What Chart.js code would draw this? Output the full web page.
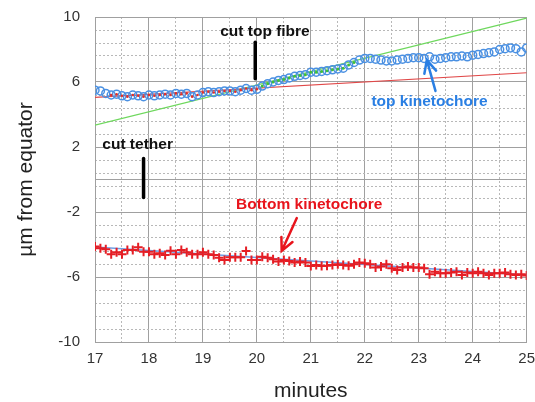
<!DOCTYPE html>
<html>
<head>
<meta charset="utf-8">
<script src="https://cdn.jsdelivr.net/npm/chart.js@4/dist/chart.umd.min.js"></script>
<style>
  body { margin: 0; background: #fff; }
  #wrap { width: 535px; height: 402px; }
</style>
</head>
<body>
<div id="wrap"><canvas id="myChart"></canvas></div>
<script>
// time in minutes
var minutes = [17.0,17.1,17.2,17.3,17.4,17.5,17.6,17.7,17.8,17.9,
  18.0,18.1,18.2,18.3,18.4,18.5,18.6,18.7,18.8,18.9,
  19.0,19.1,19.2,19.3,19.4,19.5,19.6,19.7,19.8,19.9,
  20.0,20.1,20.2,20.3,20.4,20.5,20.6,20.7,20.8,20.9,
  21.0,21.1,21.2,21.3,21.4,21.5,21.6,21.7,21.8,21.9,
  22.0,22.1,22.2,22.3,22.4,22.5,22.6,22.7,22.8,22.9,
  23.0,23.1,23.2,23.3,23.4,23.5,23.6,23.7,23.8,23.9,
  24.0,24.1,24.2,24.3,24.4,24.5,24.6,24.7,24.8,24.9,25.0];

// distance from equator (um)
var topKinetochore = [5.5,5.45,5.3,5.2,5.25,5.15,5.1,5.2,5.15,5.1,
  5.2,5.15,5.2,5.25,5.2,5.3,5.25,5.3,5.1,5.2,
  5.35,5.4,5.35,5.4,5.45,5.45,5.4,5.5,5.6,5.5,
  5.55,5.75,5.9,6.0,6.1,6.15,6.25,6.35,6.4,6.45,
  6.6,6.6,6.65,6.7,6.75,6.8,6.85,7.05,7.2,7.35,
  7.45,7.45,7.4,7.35,7.3,7.3,7.35,7.4,7.45,7.5,
  7.5,7.45,7.55,7.4,7.45,7.5,7.55,7.55,7.6,7.55,
  7.65,7.7,7.75,7.8,7.85,8.0,8.05,8.1,8.05,7.85,8.1];

var bottomKinetochore = [-4.13,-4.23,-4.29,-4.6,-4.48,-4.6,-4.34,-4.34,-4.17,-4.44,
  -4.44,-4.6,-4.54,-4.64,-4.38,-4.6,-4.34,-4.48,-4.6,-4.6,
  -4.48,-4.6,-4.64,-4.81,-4.95,-4.79,-4.79,-4.79,-4.4,-4.95,
  -4.95,-4.75,-4.81,-4.91,-5.05,-4.95,-5.01,-5.11,-5.05,-5.11,
  -5.32,-5.26,-5.32,-5.3,-5.26,-5.22,-5.26,-5.3,-5.22,-5.11,
  -5.16,-5.22,-5.42,-5.36,-5.22,-5.46,-5.57,-5.42,-5.36,-5.42,
  -5.42,-5.46,-5.83,-5.67,-5.77,-5.77,-5.73,-5.67,-5.87,-5.73,
  -5.77,-5.67,-5.77,-5.87,-5.77,-5.77,-5.73,-5.83,-5.87,-5.83,-5.91];

// index ranges of the top points used for the two fits
var beforeCutRange = [3, 30];   // 17.3 .. 20.0
var afterCutRange = [31, 48];   // 20.1 .. 21.8

// fit lines
var fitX = [17, 25];
var beforeCutFit = [5.05, 6.57];
var afterCutFit = [3.35, 9.93];
var bottomFit = [-4.15, -5.88];

// axis ticks
var xTicks = [17, 18, 19, 20, 21, 22, 23, 24, 25];
var xMinorTicks = [17.5, 18.5, 19.5, 20.5, 21.5, 22.5, 23.5, 24.5];
var yTicks = [-10, -6, -2, 0, 2, 6, 10];
var yMinorTicks = [-9.2,-8.4,-7.6,-6.8,-5.2,-4.4,-3.6,-2.8,-1.2,-0.4,0.4,1.2,2.8,3.6,4.4,5.2,6.8,7.6,8.4,9.2];

function pts(xs, ys, from, to) {
  var out = [];
  for (var i = from; i <= to; i++) out.push({x: xs[i], y: ys[i]});
  return out;
}

var notes = [
  {text: 'cut top fibre', x: 20.15, y: 9.08, color: '#111111'},
  {text: 'top kinetochore', x: 23.2, y: 4.8, color: '#2a7fe3'},
  {text: 'cut tether', x: 17.79, y: 2.12, color: '#111111'},
  {text: 'Bottom kinetochore', x: 20.97, y: -1.57, color: '#e8141c'}
];
var bars = [
  {x: 19.97, y1: 8.45, y2: 6.2},
  {x: 17.9, y1: 1.3, y2: -1.1}
];
var arrows = [
  {x1: 23.31, y1: 5.45, x2: 23.15, y2: 7.35, color: '#2a7fe3'},
  {x1: 20.74, y1: -2.37, x2: 20.46, y2: -4.4, color: '#e8141c'}
];

var notesPlugin = {
  id: 'notes',
  afterDatasetsDraw: function(chart) {
    var ctx = chart.ctx, xs = chart.scales.x, ys = chart.scales.y;
    ctx.save();
    ctx.lineCap = 'round';
    bars.forEach(function(b) {
      ctx.strokeStyle = '#000';
      ctx.lineWidth = 3.5;
      ctx.beginPath();
      ctx.moveTo(xs.getPixelForValue(b.x), ys.getPixelForValue(b.y1));
      ctx.lineTo(xs.getPixelForValue(b.x), ys.getPixelForValue(b.y2));
      ctx.stroke();
    });
    arrows.forEach(function(a) {
      var x1 = xs.getPixelForValue(a.x1), y1 = ys.getPixelForValue(a.y1);
      var x2 = xs.getPixelForValue(a.x2), y2 = ys.getPixelForValue(a.y2);
      var ang = Math.atan2(y2 - y1, x2 - x1);
      ctx.strokeStyle = a.color;
      ctx.lineWidth = 2.5;
      ctx.beginPath();
      ctx.moveTo(x1, y1);
      ctx.lineTo(x2, y2);
      ctx.moveTo(x2 - 14 * Math.cos(ang - 0.45), y2 - 14 * Math.sin(ang - 0.45));
      ctx.lineTo(x2, y2);
      ctx.lineTo(x2 - 14 * Math.cos(ang + 0.45), y2 - 14 * Math.sin(ang + 0.45));
      ctx.stroke();
    });
    ctx.font = 'bold 15.5px "Liberation Sans", Arial, sans-serif';
    ctx.textAlign = 'center';
    ctx.textBaseline = 'middle';
    notes.forEach(function(n) {
      ctx.fillStyle = n.color;
      ctx.fillText(n.text, xs.getPixelForValue(n.x), ys.getPixelForValue(n.y));
    });
    ctx.restore();
  }
};

var ctx = document.getElementById('myChart');

new Chart(ctx, {
  type: 'scatter',
  data: {
    datasets: [
      {
        label: 'fit before cut',
        data: pts(fitX, beforeCutFit, 0, 1),
        showLine: true, pointRadius: 0,
        borderColor: '#e04848', borderWidth: 1.2,
        order: 10
      },
      {
        label: 'fit after cut',
        data: pts(fitX, afterCutFit, 0, 1),
        showLine: true, pointRadius: 0,
        borderColor: '#6fd85e', borderWidth: 1.2,
        order: 10
      },
      {
        label: 'fit bottom',
        data: pts(fitX, bottomFit, 0, 1),
        showLine: true, pointRadius: 0,
        borderColor: '#6f9fe6', borderWidth: 1.5,
        order: 10
      },
      {
        label: 'top kinetochore',
        data: pts(minutes, topKinetochore, 0, minutes.length - 1),
        pointStyle: 'circle', pointRadius: 4,
        pointBorderWidth: 1.5,
        borderColor: '#4a90e2', backgroundColor: 'rgba(0,0,0,0)',
        order: 2
      },
      {
        label: 'top before cut',
        data: pts(minutes, topKinetochore, beforeCutRange[0], beforeCutRange[1]),
        pointRadius: 1.3, pointBorderWidth: 0,
        backgroundColor: '#e0302a', borderColor: '#e0302a',
        order: 1
      },
      {
        label: 'top after cut',
        data: pts(minutes, topKinetochore, afterCutRange[0], afterCutRange[1]),
        pointRadius: 1.5, pointBorderWidth: 0,
        backgroundColor: '#3fbf3a', borderColor: '#3fbf3a',
        order: 1
      },
      {
        label: 'bottom kinetochore',
        data: pts(minutes, bottomKinetochore, 0, minutes.length - 1),
        pointStyle: 'cross', pointRadius: 4.5,
        pointBorderWidth: 2,
        borderColor: '#e51e25', backgroundColor: '#e51e25',
        order: 2
      }
    ]
  },
  options: {
    responsive: true,
    maintainAspectRatio: false,
    animation: false,
    layout: { padding: { top: 17, right: 8, left: 0, bottom: 0 } },
    plugins: { legend: { display: false }, tooltip: { enabled: false } },
    scales: {
      x: {
        type: 'linear', min: 17, max: 25,
        afterBuildTicks: function(axis) { axis.ticks = xTicks.map(function(v) { return {value: v}; }); },
        afterFit: function(axis) { axis.height = 60; },
        ticks: { padding: 0, color: '#333', font: { family: 'Liberation Sans', size: 15 }, autoSkip: false, maxRotation: 0 },
        grid: { color: '#a0a0a0', lineWidth: 1, drawTicks: true, tickLength: 8, tickColor: 'rgba(0,0,0,0)' },
        border: { color: '#a0a0a0' },
        title: { display: true, text: 'minutes', color: '#222', padding: 0,
          font: { family: 'Liberation Sans', size: 21, lineHeight: 1 } }
      },
      xMinor: {
        type: 'linear', axis: 'x', position: 'bottom', min: 17, max: 25,
        afterBuildTicks: function(axis) { axis.ticks = xMinorTicks.map(function(v) { return {value: v}; }); },
        afterFit: function(axis) { axis.height = 0; },
        ticks: { display: false, padding: 0 },
        grid: { color: '#b8b8b8', lineWidth: 1, drawTicks: false },
        border: { display: false, dash: [2, 2] }
      },
      y: {
        type: 'linear', min: -10, max: 10,
        afterBuildTicks: function(axis) { axis.ticks = yTicks.map(function(v) { return {value: v}; }); },
        afterFit: function(axis) { axis.width = 95; },
        ticks: {
          padding: 0, color: '#333', font: { family: 'Liberation Sans', size: 15 },
          callback: function(v) { return v === 0 ? '' : v; }
        },
        grid: { color: '#a0a0a0', lineWidth: 1, drawTicks: true, tickLength: 15, tickColor: 'rgba(0,0,0,0)' },
        border: { color: '#a0a0a0' },
        title: { display: true, text: 'µm from equator', color: '#222', padding: { top: 16, bottom: 0 },
          font: { family: 'Liberation Sans', size: 21, lineHeight: 1 } }
      },
      yMinor: {
        type: 'linear', axis: 'y', position: 'left', min: -10, max: 10,
        afterBuildTicks: function(axis) { axis.ticks = yMinorTicks.map(function(v) { return {value: v}; }); },
        afterFit: function(axis) { axis.width = 0; },
        ticks: { display: false, padding: 0 },
        grid: { color: '#b8b8b8', lineWidth: 1, drawTicks: false },
        border: { display: false, dash: [2, 2] }
      }
    }
  },
  plugins: [notesPlugin]
});
</script>
</body>
</html>
